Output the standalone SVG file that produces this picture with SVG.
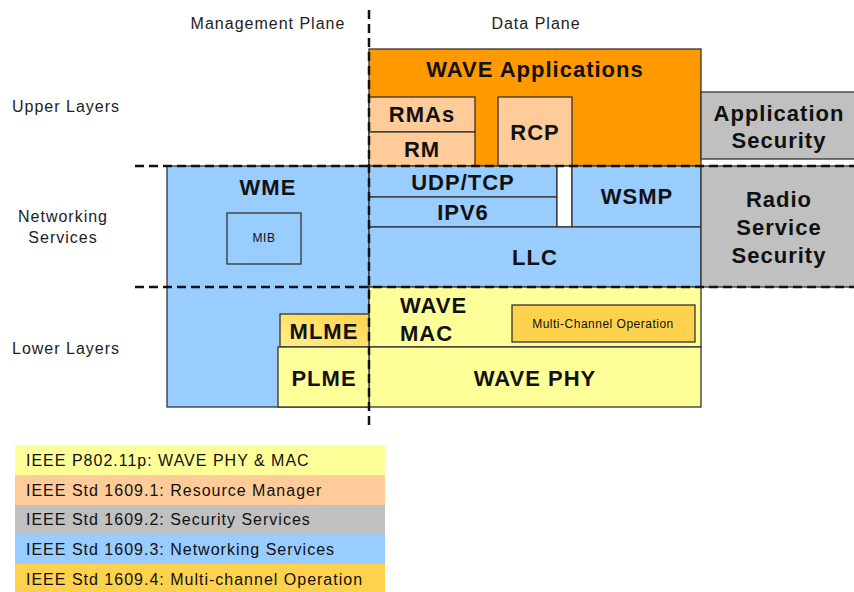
<svg xmlns="http://www.w3.org/2000/svg" width="854" height="592" viewBox="0 0 854 592">
<defs>
<linearGradient id="mlmeGrad" x1="0" y1="1" x2="1" y2="0">
<stop offset="0" stop-color="#fff08a"/>
<stop offset="1" stop-color="#ffd24d"/>
</linearGradient>
</defs>
<style>
.box{stroke:#333;stroke-width:1.3}
.or{fill:#ff9900}.pe{fill:#ffcc99}.gr{fill:#c0c0c0}.bl{fill:#99ccff}.ye{fill:#ffff99}.go{fill:#ffd24d}
.lb{font-family:"Liberation Sans",Arial,sans-serif;font-weight:bold;font-size:22px;letter-spacing:1px;fill:#111;text-anchor:middle}
.st{text-anchor:start}
.sm{font-family:"Liberation Sans",Arial,sans-serif;font-size:16px;letter-spacing:1px;fill:#222}
.tiny{font-family:"Liberation Sans",Arial,sans-serif;font-size:12px;letter-spacing:0.5px;fill:#111;text-anchor:middle}
.lg{font-family:"Liberation Sans",Arial,sans-serif;font-size:16px;letter-spacing:1px;fill:#111}
.dash{stroke:#111;stroke-width:2.5;stroke-dasharray:9,5;fill:none}
</style>
<rect width="854" height="592" fill="#fff"/>
<g id="labels">
<text class="sm" x="268" y="29" text-anchor="middle">Management Plane</text>
<text class="sm" x="536" y="29" text-anchor="middle">Data Plane</text>
<text class="sm" x="12" y="112">Upper Layers</text>
<text class="sm" x="63" y="222" text-anchor="middle">Networking</text>
<text class="sm" x="63" y="243" text-anchor="middle">Services</text>
<text class="sm" x="12" y="354">Lower Layers</text>
</g>
<g id="wave-apps"><rect class="box or" x="369" y="49" width="332" height="117"/><text class="lb" x="535" y="77">WAVE Applications</text></g>
<g id="rmas"><rect class="box pe" x="369" y="97" width="106" height="35"/><text class="lb" x="422" y="122">RMAs</text></g>
<g id="rm"><rect class="box pe" x="369" y="132" width="106" height="34"/><text class="lb" x="422" y="157">RM</text></g>
<g id="rcp"><rect class="box pe" x="498" y="97" width="74" height="69"/><text class="lb" x="535" y="140">RCP</text></g>
<g id="app-security"><rect class="box gr" x="701" y="92" width="160" height="67"/><text class="lb" x="779" y="121">Application</text><text class="lb" x="779" y="148">Security</text></g>
<g id="wme"><rect class="box bl" x="167" y="166" width="202" height="241"/><text class="lb" x="268" y="195">WME</text></g>
<g id="mib"><rect class="box bl" x="227" y="213" width="74" height="51"/><text class="tiny" x="264" y="242">MIB</text></g>
<g id="udp"><rect class="box bl" x="369" y="166" width="188" height="31"/><text class="lb" x="463" y="190">UDP/TCP</text></g>
<g id="ipv6"><rect class="box bl" x="369" y="197" width="188" height="30"/><text class="lb" x="463" y="220">IPV6</text></g>
<g id="gap"><rect class="box" fill="#fff" x="557" y="166" width="15" height="61"/></g>
<g id="wsmp"><rect class="box bl" x="572" y="166" width="129" height="61"/><text class="lb" x="637" y="204">WSMP</text></g>
<g id="llc"><rect class="box bl" x="369" y="227" width="332" height="60"/><text class="lb" x="535" y="265">LLC</text></g>
<g id="radio-security"><rect class="box gr" x="701" y="166" width="160" height="121"/><text class="lb" x="779" y="207">Radio</text><text class="lb" x="779" y="235">Service</text><text class="lb" x="779" y="263">Security</text></g>
<g id="wave-mac"><rect class="box ye" x="369" y="287" width="332" height="60"/><text class="lb st" x="400" y="313">WAVE</text><text class="lb st" x="400" y="341">MAC</text></g>
<g id="mco"><rect class="box go" x="512" y="305" width="183" height="37"/><text class="tiny" x="603" y="328">Multi-Channel Operation</text></g>
<g id="wave-phy"><rect class="box ye" x="369" y="347" width="332" height="60"/><text class="lb" x="535" y="386">WAVE PHY</text></g>
<g id="mlme"><rect class="box" fill="url(#mlmeGrad)" x="280" y="314" width="89" height="33"/><text class="lb" x="324" y="339">MLME</text></g>
<g id="plme"><rect class="box ye" x="278" y="347" width="91" height="60"/><text class="lb" x="324" y="386">PLME</text></g>
<g id="connectors">
<line class="dash" x1="369" y1="10" x2="369" y2="428"/>
<line class="dash" x1="135" y1="166" x2="854" y2="166"/>
<line class="dash" x1="135" y1="287" x2="854" y2="287"/>
</g>
<g id="legend">
<rect class="ye" x="15" y="445" width="370" height="30"/>
<rect class="pe" x="15" y="475" width="370" height="30"/>
<rect class="gr" x="15" y="505" width="370" height="29"/>
<rect class="bl" x="15" y="534" width="370" height="30"/>
<rect class="go" x="15" y="564" width="370" height="28"/>
<text class="lg" x="26" y="466">IEEE P802.11p: WAVE PHY &amp; MAC</text>
<text class="lg" x="26" y="496">IEEE Std 1609.1: Resource Manager</text>
<text class="lg" x="26" y="525">IEEE Std 1609.2: Security Services</text>
<text class="lg" x="26" y="555">IEEE Std 1609.3: Networking Services</text>
<text class="lg" x="26" y="585">IEEE Std 1609.4: Multi-channel Operation</text>
</g>
</svg>
